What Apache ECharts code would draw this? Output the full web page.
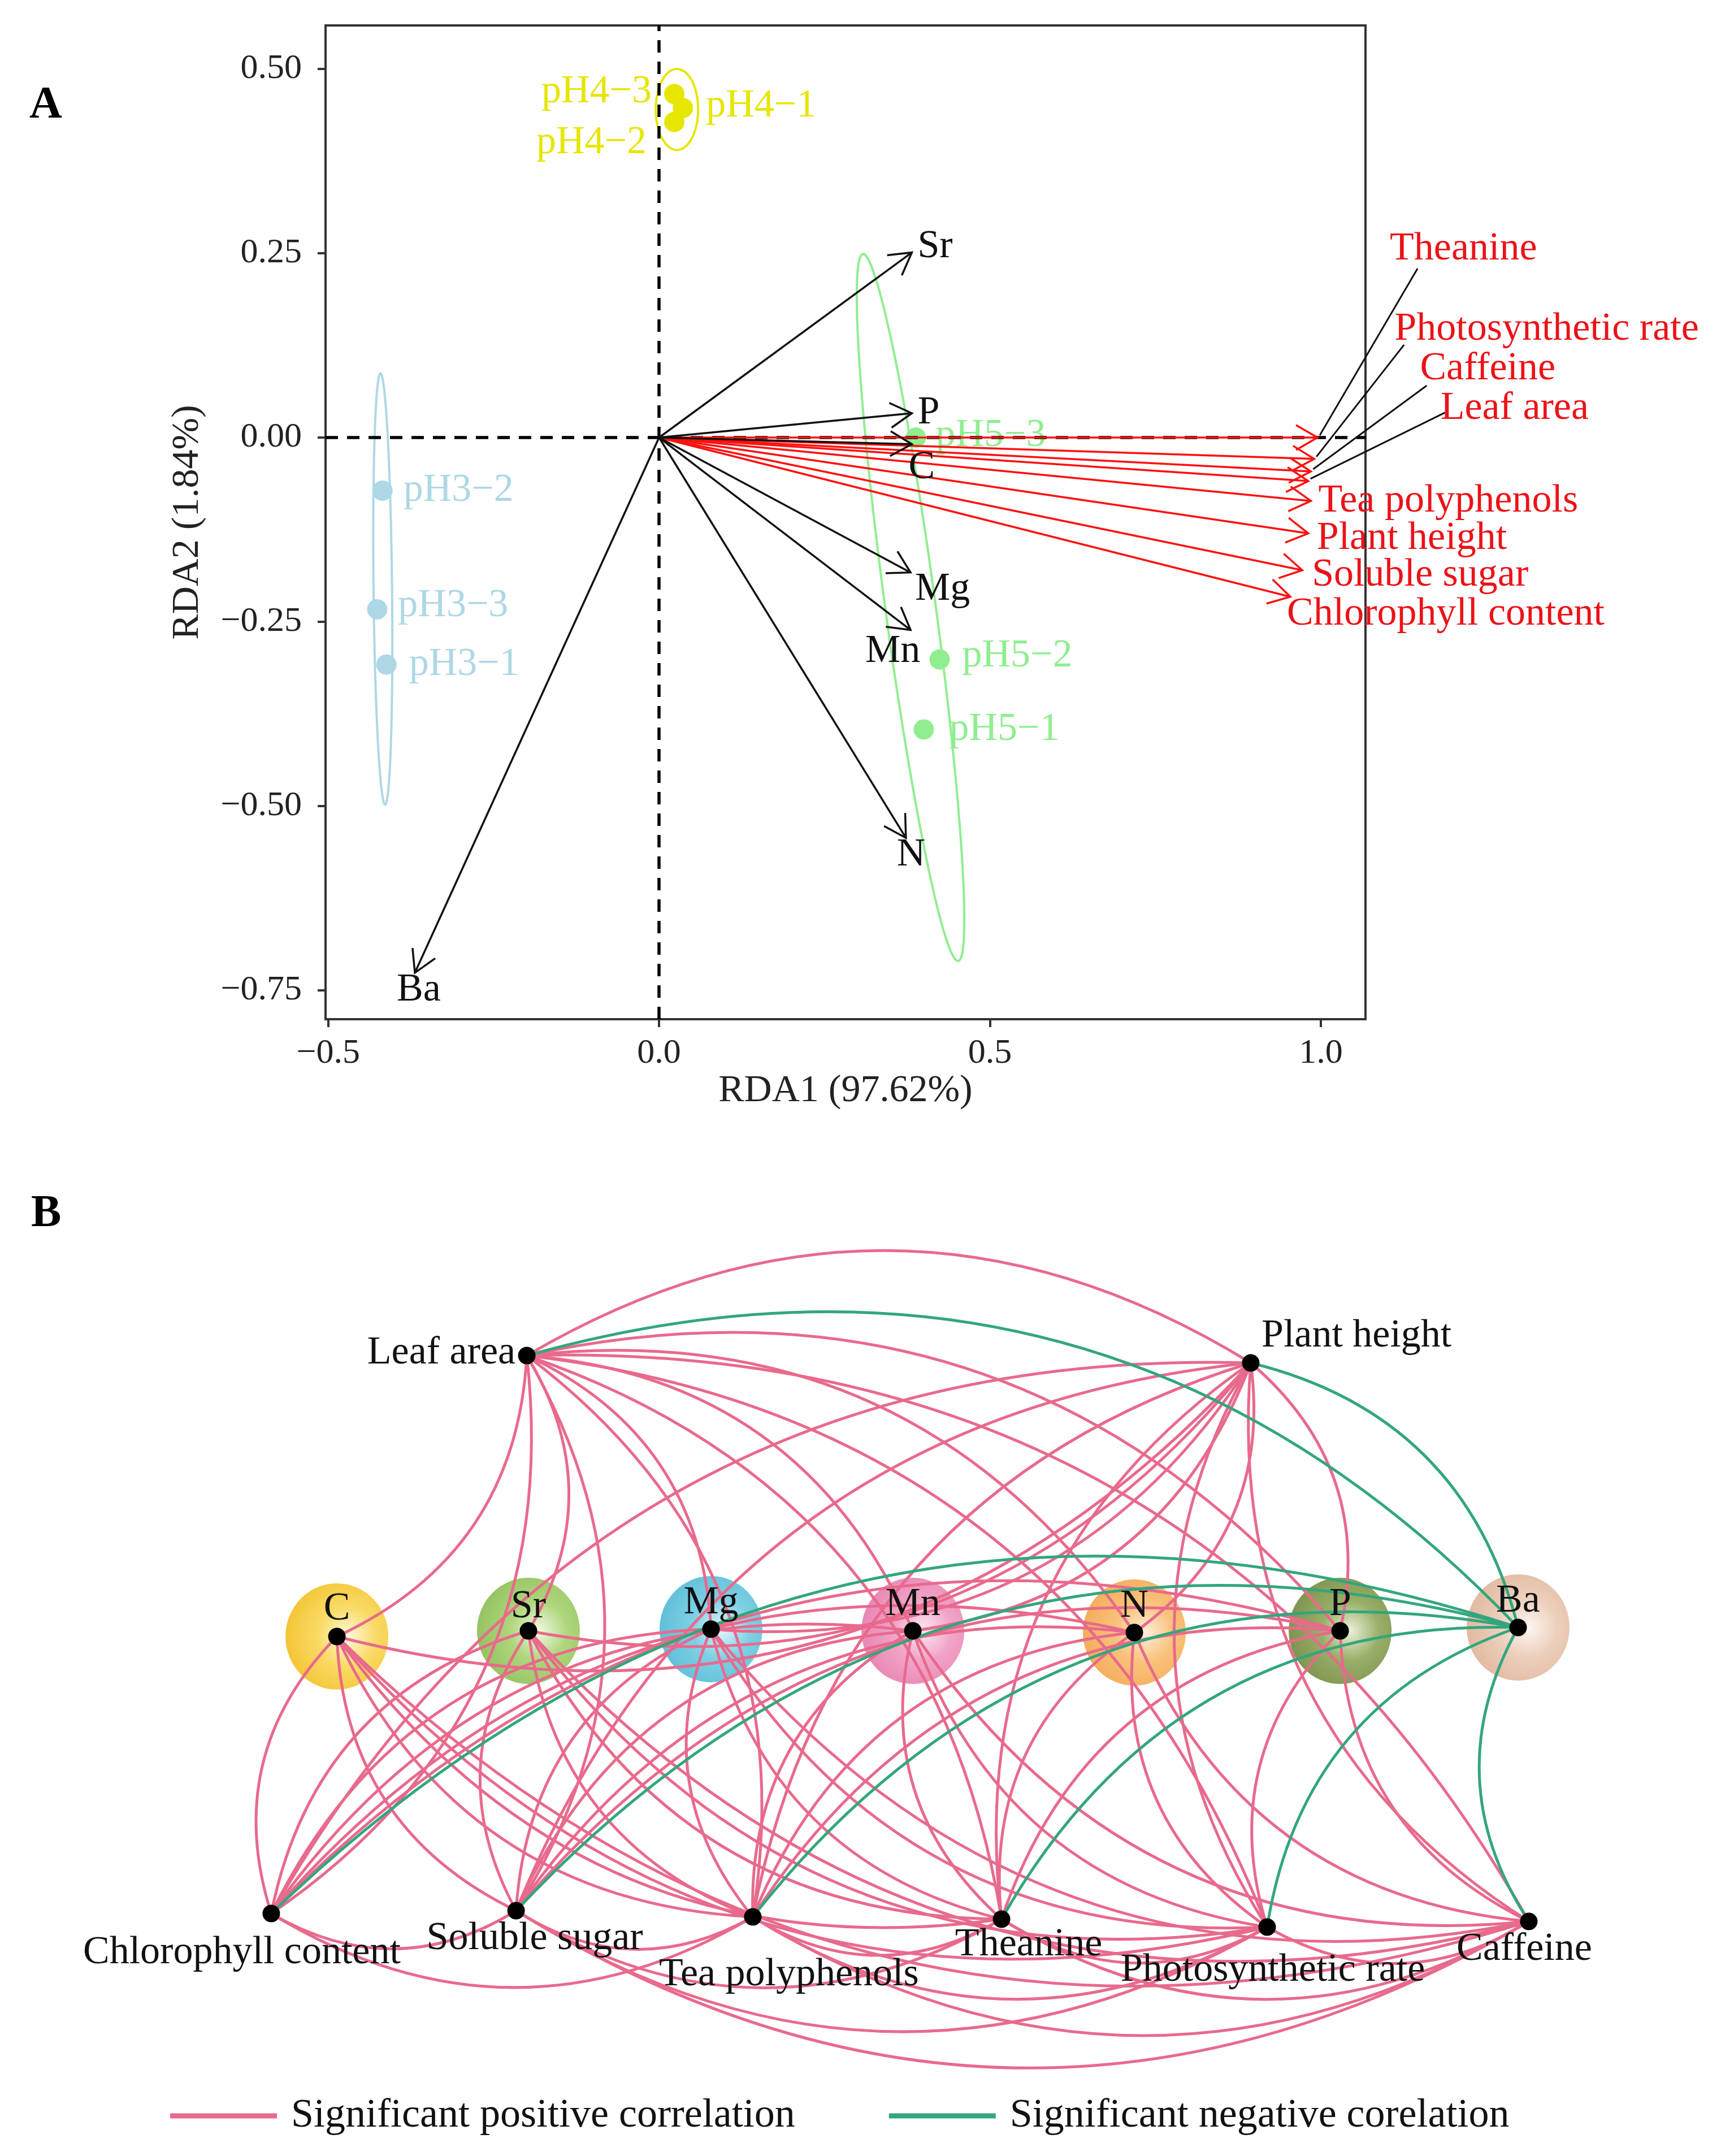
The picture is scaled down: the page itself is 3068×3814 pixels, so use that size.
<!DOCTYPE html>
<html><head><meta charset="utf-8">
<script src="https://cdn.jsdelivr.net/npm/echarts@6/dist/echarts.min.js"></script>
<style>html,body{margin:0;padding:0;background:#fff}#c{width:3068px;height:3814px}</style>
</head><body><div id="c"></div>
<script>
// ================= DATA: panel A (RDA biplot) =================
const sampleNames = ['pH3−1','pH3−2','pH3−3','pH4−1','pH4−2','pH4−3','pH5−1','pH5−2','pH5−3'];
const sampleGroup = ['pH3','pH3','pH3','pH4','pH4','pH4','pH5','pH5','pH5'];
const sampleRDA1 = [-0.412,-0.418,-0.426,0.036,0.023,0.023,0.400,0.424,0.388];
const sampleRDA2 = [-0.308,-0.072,-0.233,0.447,0.428,0.466,-0.396,-0.301,0.000];
const groups = ['pH3','pH4','pH5'];
const ellipseTop = [[-0.421,0.087],[0.027,0.500],[0.308,0.249]];
const ellipseBottom = [[-0.414,-0.498],[0.027,0.390],[0.452,-0.710]];
const ellipseHalfWidth = [0.014,0.032,0.038];
const envNames = ['Sr','P','C','Mg','Mn','N','Ba'];
const envRDA1 = [0.382,0.382,0.382,0.380,0.380,0.373,-0.369];
const envRDA2 = [0.251,0.033,-0.009,-0.183,-0.261,-0.543,-0.726];
const traitNames = ['Theanine','Photosynthetic rate','Caffeine','Leaf area','Tea polyphenols','Plant height','Soluble sugar','Chlorophyll content'];
const traitRDA1 = [0.995,0.990,0.985,0.981,0.985,0.981,0.972,0.954];
const traitRDA2 = [0.000,-0.029,-0.046,-0.059,-0.086,-0.130,-0.180,-0.216];
const xTicks = [-0.5,0,0.5,1.0];
const yTicks = [-0.75,-0.5,-0.25,0,0.25,0.5];
const xTitle = 'RDA1 (97.62%)';
const yTitle = 'RDA2 (1.84%)';

// ================= DATA: panel B (correlation network) =================
const netNodes = ['Ba','C','Sr','Mg','Mn','N','P','Plant height','Chlorophyll content','Soluble sugar','Tea polyphenols','Theanine','Photosynthetic rate','Caffeine','Leaf area'];
const netX = [95.25,8.17,22.29,35.75,50.63,66.96,82.13,75.54,3.33,21.38,38.83,57.17,76.75,96.04,22.17];
const netY = [51.75,50.42,51.25,51.5,51.25,51.0,51.25,90.75,9.58,10.0,9.08,8.75,7.58,8.42,91.83];
const elementNodes = ['C','Sr','Mg','Mn','N','P','Ba'];
const negEdges = [
  ['Ba','Plant height'],['Ba','Chlorophyll content'],['Ba','Soluble sugar'],['Ba','Tea polyphenols'],
  ['Ba','Theanine'],['Ba','Photosynthetic rate'],['Ba','Caffeine'],['Ba','Leaf area']
];
const posEdges = [
  ['C','Plant height'],['C','Chlorophyll content'],['C','Soluble sugar'],['C','Tea polyphenols'],['C','Theanine'],['C','Photosynthetic rate'],['C','Caffeine'],['C','Leaf area'],
  ['Sr','Plant height'],['Sr','Chlorophyll content'],['Sr','Soluble sugar'],['Sr','Tea polyphenols'],['Sr','Theanine'],['Sr','Photosynthetic rate'],['Sr','Caffeine'],['Sr','Leaf area'],
  ['Mg','Plant height'],['Mg','Chlorophyll content'],['Mg','Soluble sugar'],['Mg','Tea polyphenols'],['Mg','Theanine'],['Mg','Photosynthetic rate'],['Mg','Caffeine'],['Mg','Leaf area'],
  ['Mn','Plant height'],['Mn','Chlorophyll content'],['Mn','Soluble sugar'],['Mn','Tea polyphenols'],['Mn','Theanine'],['Mn','Photosynthetic rate'],['Mn','Caffeine'],['Mn','Leaf area'],
  ['N','Plant height'],['N','Chlorophyll content'],['N','Soluble sugar'],['N','Tea polyphenols'],['N','Theanine'],['N','Photosynthetic rate'],['N','Caffeine'],['N','Leaf area'],
  ['P','Plant height'],['P','Chlorophyll content'],['P','Soluble sugar'],['P','Tea polyphenols'],['P','Theanine'],['P','Photosynthetic rate'],['P','Caffeine'],['P','Leaf area'],
  ['Plant height','Chlorophyll content'],['Plant height','Soluble sugar'],['Plant height','Tea polyphenols'],['Plant height','Theanine'],['Plant height','Photosynthetic rate'],['Plant height','Caffeine'],['Plant height','Leaf area'],
  ['Chlorophyll content','Soluble sugar'],['Chlorophyll content','Tea polyphenols'],['Chlorophyll content','Leaf area'],
  ['Soluble sugar','Tea polyphenols'],['Soluble sugar','Theanine'],['Soluble sugar','Photosynthetic rate'],['Soluble sugar','Caffeine'],['Soluble sugar','Leaf area'],
  ['Tea polyphenols','Theanine'],['Tea polyphenols','Photosynthetic rate'],['Tea polyphenols','Caffeine'],['Tea polyphenols','Leaf area'],
  ['Theanine','Photosynthetic rate'],['Theanine','Caffeine'],['Theanine','Leaf area'],
  ['Photosynthetic rate','Caffeine'],['Photosynthetic rate','Leaf area'],
  ['Caffeine','Leaf area']
];
const legendNames = ['Significant positive correlation','Significant negative corelation'];

// ================= STYLE / LAYOUT =================
const FONT = '"Liberation Serif", "Times New Roman", serif';
const POS = '#E86A8C', NEG = '#33A67D';
const groupColors = {pH3:'#ADD8E6', pH4:'#E6E600', pH5:'#90EE90'};
const sampleLabelLayout = {
  'pH3−1':[40,0,'left'],'pH3−2':[37,0,'left'],'pH3−3':[37,-6,'left'],
  'pH4−1':[41,-3,'left'],'pH4−2':[-49,37,'right'],'pH4−3':[-40,-4,'right'],
  'pH5−1':[45,0,'left'],'pH5−2':[40,-6,'left'],'pH5−3':[35,-3,'left']
};
const envLabelLayout = {Sr:[10,-10],P:[10,0],C:[-6,42],Mg:[8,30],Mn:[-80,38],N:[-16,30],Ba:[-32,31]};
const traitLabelLayout = {
  'Theanine':[128,-333,'left',[177,-299]],
  'Photosynthetic rate':[142,-229,'left',[159,-202]],
  'Caffeine':[193,-181,'left',[205,-152]],
  'Leaf area':[234,-128,'left',[242,-121]],
  'Tea polyphenols':[13,0],'Plant height':[15,9],'Soluble sugar':[17,9],'Chlorophyll content':[-6,31]
};
const netLabelLayout = {
  'Leaf area':['right',[-20,-4]], 'Plant height':['left',[19,-47]],
  'C':['center',[0,-48]],'Sr':['center',[0,-42]],'Mg':['center',[0,-46]],'Mn':['center',[0,-46]],
  'N':['center',[0,-46]],'P':['center',[0,-46]],'Ba':['center',[0,-46]],
  'Chlorophyll content':['center',[-52,70]],'Soluble sugar':['center',[33,50]],'Tea polyphenols':['center',[64,103]],
  'Theanine':['center',[48,46]],'Photosynthetic rate':['center',[10,77]],'Caffeine':['center',[-8,50]]
};
const sphereColors = {
  C:['#FFF7D6','#F9D240','#F1B400'], Sr:['#EEF7DC','#9ACC5C','#77B238'], Mg:['#DDF3FA','#5EC5DE','#36AECE'],
  Mn:['#FDE4F0','#EE8DBB','#E2679F'], N:['#FFEBD2','#F8B35C','#F09630'], P:['#E6ECD0','#7F9B42','#5B7722'],
  Ba:['#FDF4EE','#E8C4AB','#D9A686']
};
const fmt = d => v => (v < 0 ? '\u2212' : '') + Math.abs(v).toFixed(d);

function arrowRenderer(names, lineColor, textColor, layout) {
  return function (params, api) {
    const i = params.dataIndex;
    const o = api.coord([0, 0]);
    const t = api.coord([api.value(0), api.value(1)]);
    const th = Math.atan2(t[1] - o[1], t[0] - o[0]);
    const L = 44, ph = Math.PI / 6;
    const h1 = [t[0] - L * Math.cos(th - ph), t[1] - L * Math.sin(th - ph)];
    const h2 = [t[0] - L * Math.cos(th + ph), t[1] - L * Math.sin(th + ph)];
    const lay = layout[names[i]];
    const ch = [
      {type:'line', shape:{x1:o[0],y1:o[1],x2:t[0],y2:t[1]}, style:{stroke:lineColor,lineWidth:3.5}},
      {type:'polyline', shape:{points:[h1,t,h2]}, style:{stroke:lineColor,lineWidth:3.5,fill:'none'}},
      {type:'text', x:t[0]+lay[0], y:t[1]+lay[1], z2:10, style:{text:names[i], fill:textColor, font:'70px '+FONT, align:lay[2]||'left', verticalAlign:'middle'}}
    ];
    if (lay[3]) ch.push({type:'line', shape:{x1:t[0]+4,y1:t[1]-4,x2:t[0]+lay[3][0],y2:t[1]+lay[3][1]}, style:{stroke:'#111',lineWidth:3}});
    return {type:'group', children:ch};
  };
}

const sampleSeries = groups.map((g, gi) => ({
  type:'scatter', xAxisIndex:0, yAxisIndex:0, z:3, silent:true, symbolSize:36,
  itemStyle:{color:groupColors[g], opacity:1},
  label:{show:true, position:'inside', formatter:'{b}', fontFamily:FONT, fontSize:70, color:groupColors[g]},
  data: sampleNames.map((n,i)=>({n,i})).filter(o=>sampleGroup[o.i]===g).map(o=>{
    const lay = sampleLabelLayout[o.n];
    return {name:o.n, value:[sampleRDA1[o.i], sampleRDA2[o.i]], label:{offset:[lay[0],lay[1]], align:lay[2]}};
  }),
  markLine: gi === 0 ? {silent:true, symbol:['none','none'], label:{show:false}, animation:false,
    lineStyle:{color:'#000', type:[22,16], width:5.5}, data:[{xAxis:0},{yAxis:0}]} : undefined
}));

const option = {
  backgroundColor:'#fff',
  animation:false,
  graphic:[
    {type:'text', left:52, top:147, style:{text:'A', font:'bold 80px '+FONT, fill:'#000'}},
    {type:'text', left:55, top:2108, style:{text:'B', font:'bold 80px '+FONT, fill:'#000'}}
  ],
  legend:{
    left:296, top:3698, icon:'rect', itemWidth:189, itemHeight:9, itemGap:166,
    textStyle:{fontFamily:FONT, fontSize:72, color:'#111', padding:[0,0,0,20], lineHeight:80},
    data:legendNames
  },
  grid:[
    {left:576, top:45, width:1840, height:1758, show:true, borderColor:'#333', borderWidth:4, backgroundColor:'transparent'},
    {left:400, top:2300, width:2400, height:1200, show:false}
  ],
  xAxis:[
    {gridIndex:0, type:'value', min:-0.504, max:1.0675, splitLine:{show:false},
     axisLine:{show:true, onZero:false, lineStyle:{color:'#333', width:4}},
     axisTick:{show:true, customValues:xTicks, length:14, lineStyle:{color:'#333', width:4}},
     axisLabel:{customValues:xTicks, formatter:fmt(1), fontFamily:FONT, fontSize:62, color:'#222', margin:30},
     name:xTitle, nameLocation:'middle', nameGap:92, nameTextStyle:{fontFamily:FONT, fontSize:68, color:'#222'}},
    {gridIndex:1, type:'value', min:0, max:100, show:false}
  ],
  yAxis:[
    {gridIndex:0, type:'value', min:-0.789, max:0.559, splitLine:{show:false},
     axisLine:{show:true, onZero:false, lineStyle:{color:'#333', width:4}},
     axisTick:{show:true, customValues:yTicks, length:14, lineStyle:{color:'#333', width:4}},
     axisLabel:{customValues:yTicks, formatter:fmt(2), fontFamily:FONT, fontSize:62, color:'#222', margin:42},
     name:yTitle, nameLocation:'middle', nameGap:210, nameTextStyle:{fontFamily:FONT, fontSize:68, color:'#222'}},
    {gridIndex:1, type:'value', min:0, max:100, show:false}
  ],
  series:[
    {type:'custom', xAxisIndex:0, yAxisIndex:0, z:2, silent:true,
     data: groups.map((g,i)=>[ellipseTop[i][0], ellipseTop[i][1], ellipseBottom[i][0], ellipseBottom[i][1], ellipseHalfWidth[i]]),
     renderItem(params, api){
       const p1 = api.coord([api.value(0), api.value(1)]);
       const p2 = api.coord([api.value(2), api.value(3)]);
       const b = api.size([api.value(4), 0])[0];
       const cx = (p1[0]+p2[0])/2, cy = (p1[1]+p2[1])/2;
       const a = Math.hypot(p1[0]-p2[0], p1[1]-p2[1])/2;
       const th = Math.atan2(p1[1]-p2[1], p1[0]-p2[0]);
       const pts = [];
       for (let k=0;k<160;k++){ const t=k/160*2*Math.PI; const u=a*Math.cos(t), v=b*Math.sin(t);
         pts.push([cx+u*Math.cos(th)-v*Math.sin(th), cy+u*Math.sin(th)+v*Math.cos(th)]); }
       return {type:'polygon', shape:{points:pts}, style:{fill:'none', stroke:groupColors[groups[params.dataIndex]], lineWidth:4}};
     }},
    ...sampleSeries,
    {type:'custom', xAxisIndex:0, yAxisIndex:0, z:6, silent:true,
     data: traitNames.map((n,i)=>[traitRDA1[i], traitRDA2[i]]),
     renderItem: arrowRenderer(traitNames, '#FF1010', '#EC1218', traitLabelLayout)},
    {type:'custom', xAxisIndex:0, yAxisIndex:0, z:7, silent:true,
     data: envNames.map((n,i)=>[envRDA1[i], envRDA2[i]]),
     renderItem: arrowRenderer(envNames, '#111', '#111', envLabelLayout)},
    // panel B spheres
    {type:'scatter', xAxisIndex:1, yAxisIndex:1, z:2, silent:true, symbolSize:[182,188],
     data: elementNodes.map(n=>{ const i = netNodes.indexOf(n); const c = sphereColors[n];
       return {value:[netX[i], netY[i]], itemStyle:{color:{type:'radial', x:0.6, y:0.5, r:0.62,
         colorStops:[{offset:0,color:c[0]},{offset:0.45,color:c[1]},{offset:1,color:c[2]}]}}}; })},
    {type:'graph', coordinateSystem:'cartesian2d', xAxisIndex:1, yAxisIndex:1, layout:'none', z:5, silent:true,
     symbol:'circle', symbolSize:31, itemStyle:{color:'#000'},
     label:{show:true, position:'inside', fontFamily:FONT, fontSize:70, color:'#111'},
     lineStyle:{width:5, opacity:1},
     data: netNodes.map((n,i)=>({name:n, value:[netX[i], netY[i]],
       label:{align:netLabelLayout[n][0], offset:netLabelLayout[n][1]}})),
     links: [
       ...posEdges.map(e=>({source:e[0], target:e[1], lineStyle:{color:POS, curveness:-0.3}})),
       ...negEdges.map(e=>({source:e[0], target:e[1], lineStyle:{color:NEG, curveness:-0.3}}))
     ]},
    {name:legendNames[0], type:'line', xAxisIndex:1, yAxisIndex:1, data:[], itemStyle:{color:POS}, lineStyle:{color:POS}},
    {name:legendNames[1], type:'line', xAxisIndex:1, yAxisIndex:1, data:[], itemStyle:{color:NEG}, lineStyle:{color:NEG}}
  ]
};
const chart = echarts.init(document.getElementById('c'), null, {renderer:'canvas'});
chart.setOption(option);
</script></body></html>
